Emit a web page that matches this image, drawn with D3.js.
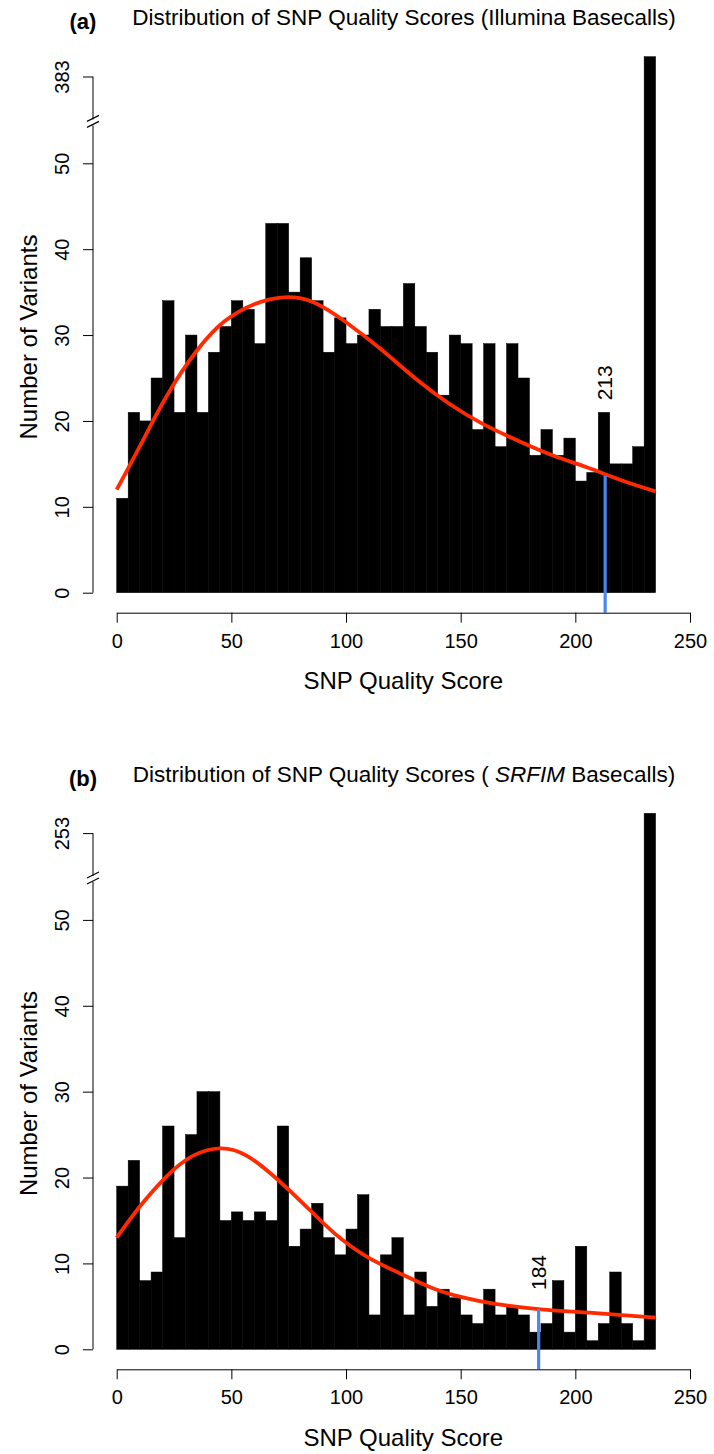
<!DOCTYPE html>
<html>
<head>
<meta charset="utf-8">
<script src="https://cdn.jsdelivr.net/npm/d3@7"></script>
<style>
  html, body { margin: 0; padding: 0; background: #fff; }
  svg { display: block; font-family: "Liberation Sans", Arial, Helvetica, sans-serif; }
</style>
</head>
<body>
<svg id="chart" width="714" height="1454"></svg>
<script>
// ---------------- DATA ----------------
const binStarts = [0,5,10,15,20,25,30,35,40,45,50,55,60,65,70,75,80,85,90,95,100,105,110,115,120,125,130,135,140,145,150,155,160,165,170,175,180,185,190,195,200,205,210,215,220,225,230];
const binWidth = 5;

const countsA = [11,21,20,25,34,21,30,21,28,31,34,33,29,43,43,35,39,34,28,32,29,30,33,31,31,36,31,28,23,30,29,19,29,17,29,25,16,19,16,18,13,14,21,15,15,17,383];
const countsB = [19,22,8,9,26,13,25,30,30,15,16,15,16,15,26,12,14,17,13,11,14,18,4,11,13,4,9,5,7,6,4,3,7,4,5,4,2,3,8,2,12,1,3,9,3,1,253];

const curveXA = [0, 10, 22, 35, 47, 60, 73, 86, 100, 115, 130, 145, 160, 175, 190, 205, 220, 235];
const curveYA = [12, 17, 23.0, 28.2, 31.6, 33.6, 34.4, 33.8, 31.5, 28.4, 25.0, 22.0, 19.6, 17.7, 16.0, 14.6, 13.1, 11.8];
const curveXB = [0, 10, 22, 33, 45, 57, 70, 82, 95, 109, 123, 137, 150, 165, 185, 206, 235];
const curveYB = [13.0, 16.6, 20.2, 22.5, 23.4, 22.5, 19.8, 16.8, 13.5, 10.8, 8.9, 7.2, 6.1, 5.3, 4.66, 4.26, 3.7];

const cutoffs = [213, 184];          // blue line positions
const cutoffHeights = [13.6, 4.7];   // curve height at the cutoff
const cutoffLabelY = [22.4, 6.9];    // where the rotated label starts (count units)
const topLabels = [383, 253];        // label of the broken top bar
const yTickValues = [0, 10, 20, 30, 40, 50];
const xTickValues = [0, 50, 100, 150, 200, 250];
const panelTags = ["(a)", "(b)"];

// ---------------- LAYOUT ----------------
const svg = d3.select("#chart");
const panelOffsets = [0, 756.6];
const L = { xLeft: 116.7, xRight: 690, yZero: 592.7, yFifty: 163.3, yTopTick: 76.5, plotTop: 56.7,
            axisY: 612.7, yAxisX: 93, breakVal: 55 };
const FONT = 20;
const LABFONT = 24;

const x = d3.scaleLinear().domain([0, 250]).range([L.xLeft, L.xRight]);

const panels = [
  { counts: countsA, cx: curveXA, cy: curveYA },
  { counts: countsB, cx: curveXB, cy: curveYB }
];

panels.forEach((p, i) => {
  const off = panelOffsets[i];
  const g = svg.append("g");
  const yLow = d3.scaleLinear().domain([0, 50]).range([L.yZero + off, L.yFifty + off]);
  const yBreak = yLow(L.breakVal);
  const y = d3.scaleLinear().domain([0, L.breakVal, topLabels[i]])
              .range([yLow(0), yBreak, L.yTopTick + off]);
  const barTop = v => v > L.breakVal ? L.plotTop + off : y(v);

  // bars
  g.append("g").selectAll("rect")
    .data(p.counts)
    .join("rect")
    .attr("x", (d, k) => x(binStarts[k]))
    .attr("width", (d, k) => x(binStarts[k] + binWidth) - x(binStarts[k]))
    .attr("y", d => barTop(d))
    .attr("height", d => y(0) - barTop(d))
    .attr("fill", "#000")
    .attr("stroke", "#000")
    .attr("stroke-width", 0.5);

  // fitted curve
  const pts = p.cx.map((v, k) => [v, p.cy[k]]);
  g.append("path")
    .datum(pts)
    .attr("fill", "none")
    .attr("stroke", "#ff2a00")
    .attr("stroke-width", 3.8)
    .attr("d", d3.line().x(d => x(d[0])).y(d => y(d[1])).curve(d3.curveNatural));

  // cutoff blue line
  g.append("line")
    .attr("x1", x(cutoffs[i])).attr("x2", x(cutoffs[i]))
    .attr("y1", y(cutoffHeights[i])).attr("y2", L.axisY + off)
    .attr("stroke", "#4a86f0")
    .attr("stroke-width", 3.2);

  g.append("text")
    .attr("transform", `translate(${x(cutoffs[i]) + 7},${y(cutoffLabelY[i])}) rotate(-90)`)
    .attr("text-anchor", "start")
    .attr("font-size", 21)
    .text(cutoffs[i]);

  // x axis
  const xa = g.append("g")
    .attr("transform", `translate(0,${L.axisY + off})`)
    .call(d3.axisBottom(x).tickValues(xTickValues).tickSize(10).tickSizeOuter(0).tickFormat(d3.format("d")));
  xa.select(".domain").attr("stroke", "#000").attr("stroke-width", 1);
  xa.selectAll(".tick line").attr("stroke", "#000");
  xa.selectAll(".tick text").attr("font-size", FONT).attr("font-family", null).attr("fill", "#000").attr("y", 21);

  g.append("text")
    .attr("x", (L.xLeft + L.xRight) / 2)
    .attr("y", 689 + off)
    .attr("text-anchor", "middle")
    .attr("font-size", LABFONT)
    .text("SNP Quality Score");

  // y axis (with break)
  const ya = g.append("g")
    .attr("transform", `translate(${L.yAxisX},0)`)
    .call(d3.axisLeft(y).tickValues(yTickValues.concat([topLabels[i]])).tickSize(10).tickFormat(d3.format("d")));
  ya.select(".domain").remove();
  ya.selectAll(".tick line").attr("stroke", "#000");
  ya.selectAll(".tick text")
    .attr("font-size", FONT).attr("fill", "#000")
    .attr("x", null).attr("dy", null)
    .attr("text-anchor", "middle")
    .attr("transform", "translate(-24,0) rotate(-90)");
  ya.append("line").attr("x1", 0).attr("x2", 0).attr("y1", y(0)).attr("y2", yBreak + 5).attr("stroke", "#000");
  ya.append("line").attr("x1", 0).attr("x2", 0).attr("y1", yBreak - 1).attr("y2", y(topLabels[i])).attr("stroke", "#000");
  ya.append("line").attr("x1", -6).attr("y1", yBreak + 1).attr("x2", 6).attr("y2", yBreak - 5).attr("stroke", "#000").attr("stroke-width", 1.2);
  ya.append("line").attr("x1", -6).attr("y1", yBreak + 7).attr("x2", 6).attr("y2", yBreak + 1).attr("stroke", "#000").attr("stroke-width", 1.2);

  g.append("text")
    .attr("transform", `translate(37,${337 + off}) rotate(-90)`)
    .attr("text-anchor", "middle")
    .attr("font-size", LABFONT)
    .text("Number of Variants");

  // titles
  g.append("text")
    .attr("x", 83).attr("y", 29 + off)
    .attr("text-anchor", "middle")
    .attr("font-size", 22).attr("font-weight", "bold")
    .text(panelTags[i]);

  const t = g.append("text")
    .attr("x", 404).attr("y", 25 + off)
    .attr("text-anchor", "middle")
    .attr("font-size", 22.5);
  if (i === 0) {
    t.text("Distribution of SNP Quality Scores (Illumina Basecalls)");
  } else {
    t.append("tspan").text("Distribution of SNP Quality Scores ( ");
    t.append("tspan").attr("font-style", "italic").text("SRFIM");
    t.append("tspan").text(" Basecalls)");
  }
});
</script>
</body>
</html>
